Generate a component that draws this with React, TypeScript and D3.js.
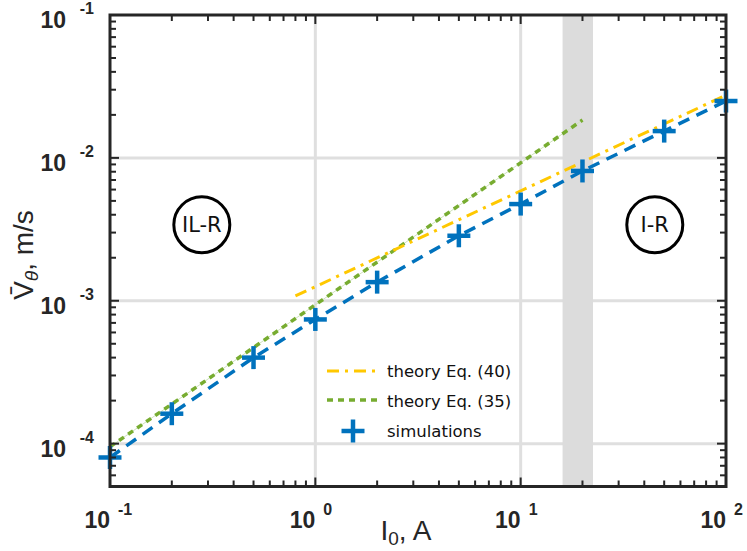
import React from "react";
import * as d3 from "d3";

// ---- data ----
const currents = [0.1, 0.2, 0.5, 1, 2, 5, 10, 20, 50, 100];
const simV = [8.0e-5, 1.62e-4, 4.0e-4, 7.4e-4, 1.35e-3, 2.85e-3, 4.75e-3, 8.1e-3, 1.54e-2, 2.5e-2];
const eq35X = [0.1, 20];
const eq35V = [9.5e-5, 1.84e-2];
const eq40X = [0.8, 100];
const eq40V = [1.08e-3, 2.75e-2];
const bandX = [16, 22.5];
const xMajor = [0.1, 1, 10, 100];
const xExp = ["-1", "0", "1", "2"];
const yMajor = [1e-4, 1e-3, 1e-2, 1e-1];
const yExp = ["-4", "-3", "-2", "-1"];
const legendLabels = ["theory Eq. (40)", "theory Eq. (35)", "simulations"];
const regionLabels = ["IL-R", "I-R"];
const regionX = [0.28, 45];
const regionV = [3.4e-3, 3.4e-3];

const W = 747, H = 551;
const L = 110, R = 726, T = 15, B = 486.5;
const AX = "#262626";
const BLUE = "#0072BD";
const GREEN = "#77AC30";
const YELLOW = "#FFC800";
const GRID = "#dfdfdf";

export default function App() {
  const x = d3.scaleLog().domain([0.1, 100]).range([L, R]);
  const y = d3.scaleLog().domain([Math.pow(10, -4.3), 0.1]).range([B, T]);

  const minorX: number[] = [];
  for (let e = -1; e < 2; e++) for (let m = 2; m <= 9; m++) minorX.push(m * Math.pow(10, e));
  const minorY: number[] = [];
  for (let e = -5; e < -1; e++) for (let m = 2; m <= 9; m++) {
    const v = m * Math.pow(10, e);
    if (v >= Math.pow(10, -4.3) && v < 0.1) minorY.push(v);
  }

  const line = d3.line<[number, number]>().x(d => x(d[0])).y(d => y(d[1]));
  const simPts = currents.map((c, i) => [c, simV[i]] as [number, number]);
  const e35 = eq35X.map((c, i) => [c, eq35V[i]] as [number, number]);
  const e40 = eq40X.map((c, i) => [c, eq40V[i]] as [number, number]);

  const plus = (cx: number, cy: number, s: number, k: string) => (
    <g key={k} stroke={BLUE} strokeWidth={4.5}>
      <line x1={cx - s} x2={cx + s} y1={cy} y2={cy} />
      <line x1={cx} x2={cx} y1={cy - s} y2={cy + s} />
    </g>
  );

  const tickFont = "'Liberation Sans', Arial, sans-serif";
  const legFont = "'DejaVu Sans', sans-serif";

  return (
    <svg width={W} height={H} style={{ position: "absolute", left: 0, top: 0, background: "#fff" }}>
      <rect x={0} y={0} width={W} height={H} fill="#fff" />
      {/* grid */}
      {xMajor.slice(1, -1).map(v => (
        <line key={"gx" + v} x1={x(v)} x2={x(v)} y1={T} y2={B} stroke={GRID} strokeWidth={3} />
      ))}
      {yMajor.slice(0, -1).map(v => (
        <line key={"gy" + v} x1={L} x2={R} y1={y(v)} y2={y(v)} stroke={GRID} strokeWidth={3} />
      ))}
      {/* band */}
      <rect x={x(bandX[0])} y={T} width={x(bandX[1]) - x(bandX[0])} height={B - T} fill="#dcdcdc" />

      {/* eq 35 */}
      <path d={line(e35)!} stroke="#cfe3bb" strokeWidth={1} fill="none" />
      <path d={line(e35)!} stroke={GREEN} strokeWidth={3.5} fill="none" strokeDasharray="6 5" />
      {/* eq 40 */}
      <path d={line(e40)!} stroke={YELLOW} strokeWidth={3} fill="none" strokeDasharray="12 6 3 6" />
      {/* simulations */}
      <path d={line(simPts)!} stroke={BLUE} strokeWidth={3.5} fill="none" strokeDasharray="12 8" />
      {simPts.map((p, i) => plus(x(p[0]), y(p[1]), 11.5, "p" + i))}

      {/* region circles */}
      {regionLabels.map((t, i) => (
        <g key={t}>
          <circle cx={x(regionX[i])} cy={y(regionV[i])} r={28} fill="none" stroke="#000" strokeWidth={3} />
          <text x={x(regionX[i])} y={y(regionV[i]) + 7.5} textAnchor="middle" fontFamily={legFont} fontSize={21} fill="#111">{t}</text>
        </g>
      ))}

      {/* legend */}
      <line x1={327} x2={377} y1={371} y2={371} stroke={YELLOW} strokeWidth={3} strokeDasharray="12 6 3 6" />
      <line x1={327} x2={380} y1={400} y2={400} stroke={GREEN} strokeWidth={3.5} strokeDasharray="6 5" />
      {plus(353, 431, 11.5, "leg")}
      {legendLabels.map((t, i) => (
        <text key={t} x={387} y={376.5 + i * 30} fontFamily={legFont} fontSize={16.5} fill="#111">{t}</text>
      ))}

      {/* axes frame */}
      <rect x={L} y={T} width={R - L} height={B - T} fill="none" stroke={AX} strokeWidth={3} />
      {/* ticks */}
      {xMajor.map(v => (
        <g key={"tx" + v} stroke={AX} strokeWidth={2}>
          <line x1={x(v)} x2={x(v)} y1={B} y2={B - 9} />
          <line x1={x(v)} x2={x(v)} y1={T} y2={T + 9} />
        </g>
      ))}
      {minorX.map(v => (
        <g key={"mx" + v} stroke={AX} strokeWidth={2}>
          <line x1={x(v)} x2={x(v)} y1={B} y2={B - 6} />
          <line x1={x(v)} x2={x(v)} y1={T} y2={T + 6} />
        </g>
      ))}
      {yMajor.map(v => (
        <g key={"ty" + v} stroke={AX} strokeWidth={2}>
          <line x1={L} x2={L + 9} y1={y(v)} y2={y(v)} />
          <line x1={R} x2={R - 9} y1={y(v)} y2={y(v)} />
        </g>
      ))}
      {minorY.map(v => (
        <g key={"my" + v} stroke={AX} strokeWidth={2}>
          <line x1={L} x2={L + 6} y1={y(v)} y2={y(v)} />
          <line x1={R} x2={R - 6} y1={y(v)} y2={y(v)} />
        </g>
      ))}

      {/* tick labels */}
      {xMajor.map((v, i) => (
        <g key={"lx" + v} fontFamily={tickFont} fontWeight="bold" fill={AX}>
          <text x={x(v)} y={528} textAnchor="end" fontSize={23}>10</text>
          <text x={x(v) + 8} y={515} fontSize={16}>{xExp[i]}</text>
        </g>
      ))}
      {yMajor.map((v, i) => (
        <g key={"ly" + v} fontFamily={tickFont} fontWeight="bold" fill={AX}>
          <text x={66} y={y(v) + 13} textAnchor="end" fontSize={23}>10</text>
          <text x={94} y={y(v) - 1} textAnchor="end" fontSize={16}>{yExp[i]}</text>
        </g>
      ))}

      {/* axis labels */}
      <text x={406} y={540} textAnchor="middle" fontFamily={tickFont} fontSize={28} fill={AX}>
        I<tspan fontSize={19} dy={5}>0</tspan><tspan dy={-5}>, A</tspan>
      </text>
      <text transform="translate(33,255) rotate(-90)" textAnchor="middle" fontFamily={tickFont} fontSize={28} fill={AX}>
        {"V\u0304"}<tspan fontSize={19} fontStyle="italic" dy={5}>θ</tspan><tspan dy={-5}>, m/s</tspan>
      </text>
    </svg>
  );
}
